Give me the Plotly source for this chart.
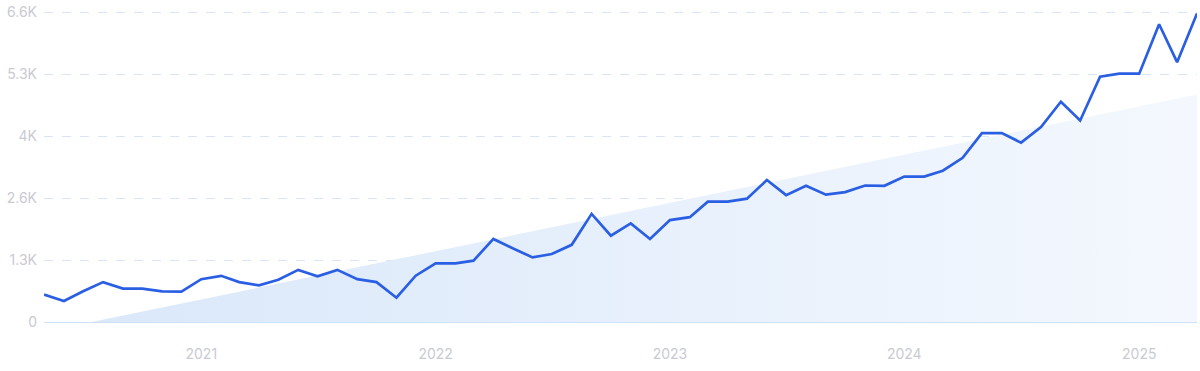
import plotly.graph_objects as go
import pandas as pd

# Monthly dates May 2020 .. Apr 2025
dates = pd.date_range("2020-05-01", "2025-04-01", freq="MS").strftime("%Y-%m-%d").tolist()

values = [
    584, 449, 654, 850, 711, 711, 654, 647, 913, 985,
    850, 780, 900, 1111, 976, 1111, 913, 850, 517, 987,
    1250, 1250, 1307, 1771, 1571, 1377, 1449, 1645, 2305, 1841,
    2102, 1771, 2172, 2235, 2566, 2566, 2629, 3026, 2705, 2904,
    2714, 2769, 2910, 2904, 3100, 3100, 3226, 3500, 4027, 4027,
    3823, 4154, 4696, 4295, 5229, 5293, 5293, 6347, 5539, 6579,
]

trend_dates = ["2020-07-14", "2025-04-01"]
trend_values = [0, 4850]

y_tickvals = [0, 1320, 2640, 3960, 5280, 6600]
y_ticktext = ["0", "1.3K", "2.6K", "4K", "5.3K", "6.6K"]
x_tickvals = ["2021-01-01", "2022-01-01", "2023-01-01", "2024-01-01", "2025-01-01"]
x_ticktext = ["2021", "2022", "2023", "2024", "2025"]

label_color = "#c9cad2"

fig = go.Figure()
fig.add_trace(go.Scatter(
    x=trend_dates, y=trend_values, mode="lines",
    line=dict(width=0, color="rgba(0,0,0,0)"),
    fill="tozeroy",
    fillgradient=dict(type="horizontal",
                      colorscale=[[0, "rgba(218,232,250,1)"], [1, "rgba(244,248,254,1)"]]),
    hoverinfo="skip", showlegend=False,
))
fig.add_trace(go.Scatter(
    x=dates, y=values, mode="lines",
    line=dict(color="#2b5fe3", width=2.7),
    showlegend=False,
))

fig.update_layout(
    width=1200, height=371,
    margin=dict(l=44, r=3, t=8, b=49),
    paper_bgcolor="white", plot_bgcolor="white",
    font=dict(family="Inter, Roboto, sans-serif", size=14, color=label_color),
)
fig.update_xaxes(
    type="date", range=["2020-05-01", "2025-04-01"],
    tickvals=x_tickvals, ticktext=x_ticktext,
    showgrid=False, zeroline=False, showline=False,
    ticks="", ticklabelstandoff=22,
    tickfont=dict(size=14, color=label_color),
)
fig.update_yaxes(
    range=[0, 6630], tickvals=y_tickvals, ticktext=y_ticktext,
    showgrid=True, gridcolor="#d8e5f8", griddash="dash", gridwidth=1,
    zeroline=True, zerolinecolor="#cfe2fb", zerolinewidth=1,
    showline=False, ticks="", ticklabelstandoff=6,
    tickfont=dict(size=14, color=label_color),
)

fig.write_html("out.html", config={"displayModeBar": False},
               post_script="document.body.style.margin='0';")
